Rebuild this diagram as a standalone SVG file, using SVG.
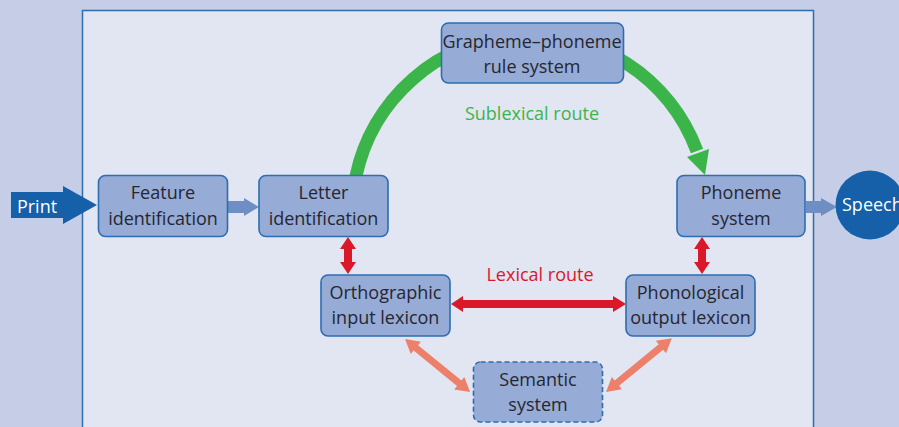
<svg xmlns="http://www.w3.org/2000/svg" width="899" height="427" viewBox="0 0 899 427">
<defs>
<style>
.node rect{fill:#96abd6;stroke:#2d6db1;stroke-width:1.6}
.node text,.lbl{font-family:"Open Sans","Liberation Sans",sans-serif;font-size:18px;text-anchor:middle}
.node text{fill:#262630}
.wt{fill:#ffffff;font-family:"Open Sans","Liberation Sans",sans-serif;font-size:18px}
.red{fill:#d9182a}
.sal{fill:#ec806a}
.blu{fill:#6f8fc4}
</style>
</defs>
<rect x="0" y="0" width="899" height="427" fill="#c6cde7"/>
<rect x="82.5" y="10.5" width="731" height="430" fill="#e1e6f2" stroke="#2d6db1" stroke-width="1.5"/>

<g id="connectors">
  <!-- Print arrow -->
  <polygon points="11,192 63,192 63,186 97,205 63,224 63,218 11,218" fill="#1560a8"/>
  <!-- Feature -> Letter -->
  <polygon class="blu" points="228,201 244,201 244,198 259,207 244,216 244,213 228,213"/>
  <!-- Phoneme -> Speech -->
  <polygon class="blu" points="806,201 821,201 821,198 837,207 821,216 821,213 806,213"/>
  <!-- green sublexical arc -->
  <path d="M356 176 A178 178 0 0 1 697 151" fill="none" stroke="#3bb54a" stroke-width="13"/>
  <polygon points="709,149 687,157 705,175" fill="#3bb54a"/>
  <!-- red vertical left -->
  <polygon class="red" points="348,237 356,249 352,249 352,262 356,262 348,274 340,262 344,262 344,249 340,249"/>
  <!-- red vertical right -->
  <polygon class="red" points="702,237 710,249 706,249 706,262 710,262 702,274 694,262 698,262 698,249 694,249"/>
  <!-- red horizontal -->
  <polygon class="red" points="451,304 463,296 463,300 613,300 613,296 626,304 613,312 613,308 463,308 463,312"/>
  <!-- salmon arrows -->
  <g transform="translate(405,339) rotate(39.2)">
    <polygon class="sal" points="0,0 14,-8 14,-3.5 70,-3.5 70,-8 84,0 70,8 70,3.5 14,3.5 14,8"/>
  </g>
  <g transform="translate(606,392) rotate(-39.3)">
    <polygon class="sal" points="0,0 14,-8 14,-3.5 71,-3.5 71,-8 85,0 71,8 71,3.5 14,3.5 14,8"/>
  </g>
</g>

<g id="print"><text class="wt" x="37" y="213" text-anchor="middle">Print</text></g>

<g id="speech">
  <circle cx="870" cy="205" r="34.5" fill="#1560a8"/>
  <text class="wt" x="842" y="211">Speech</text>
</g>

<g id="feature" class="node">
  <rect x="98.5" y="175.5" width="129" height="61" rx="7"/>
  <text x="163" y="199">Feature</text>
  <text x="163" y="225">identification</text>
</g>
<g id="letter" class="node">
  <rect x="259" y="175.5" width="129" height="61" rx="7"/>
  <text x="323.5" y="199">Letter</text>
  <text x="323.5" y="225">identification</text>
</g>
<g id="grapheme" class="node">
  <rect x="441.5" y="23" width="182" height="60" rx="7"/>
  <text x="532" y="48">Grapheme–phoneme</text>
  <text x="532" y="73">rule system</text>
</g>
<g id="phoneme" class="node">
  <rect x="677" y="175.5" width="128" height="61" rx="7"/>
  <text x="741" y="199">Phoneme</text>
  <text x="741" y="225">system</text>
</g>
<g id="orthographic" class="node">
  <rect x="321" y="275" width="129" height="61" rx="7"/>
  <text x="385.5" y="299">Orthographic</text>
  <text x="385.5" y="324">input lexicon</text>
</g>
<g id="phonological" class="node">
  <rect x="626" y="275" width="129" height="61" rx="7"/>
  <text x="690.5" y="299">Phonological</text>
  <text x="690.5" y="324">output lexicon</text>
</g>
<g id="semantic" class="node">
  <rect x="473.5" y="362" width="129" height="60" rx="7" stroke-dasharray="5 3"/>
  <text x="538" y="386">Semantic</text>
  <text x="538" y="411">system</text>
</g>

<text class="lbl" x="532" y="120" fill="#3bb54a">Sublexical route</text>
<text class="lbl" x="540" y="281" fill="#d9182a">Lexical route</text>
</svg>
